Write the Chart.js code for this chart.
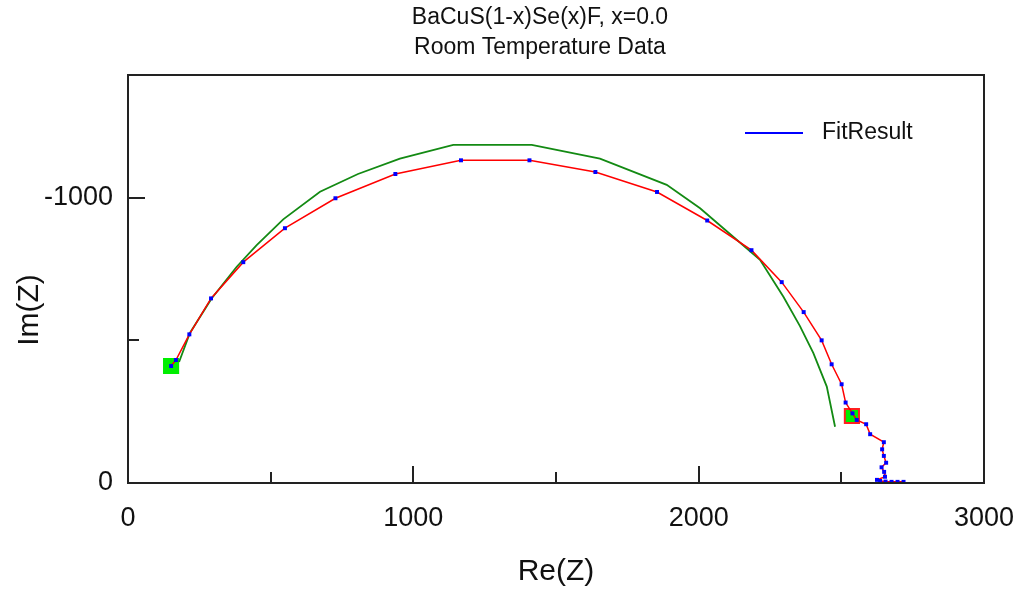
<!DOCTYPE html>
<html>
<head>
<meta charset="utf-8">
<script src="https://cdn.jsdelivr.net/npm/chart.js@4/dist/chart.umd.min.js"></script>
<style>
  html, body { margin: 0; padding: 0; background: #fff; }
  canvas { display: block; }
</style>
</head>
<body>
<canvas id="nyquist_chart" width="1021" height="597"></canvas>
<script>
// measured impedance (red line, blue dots)
const re_z = [151, 168, 215, 291, 404, 550, 727, 937, 1167, 1407, 1638, 1854, 2030,
  2185, 2291, 2368, 2431, 2466, 2501, 2515, 2539, 2554, 2587, 2601, 2649, 2643,
  2649, 2657, 2641, 2650, 2653, 2625, 2636, 2655, 2676, 2697, 2718];
const im_z = [-410, -431, -521, -647, -774, -893, -998, -1083, -1131, -1131, -1090,
  -1020, -920, -816, -704, -599, -500, -416, -346, -282, -244, -221, -206, -171,
  -143, -118, -95, -71, -55, -39, -22, -11, -7, -5, -4, -4, -4];

// fit result (green line)
const fit_re = [179, 217, 293, 381, 451, 544, 673, 806, 953, 1140, 1415, 1654, 1888,
  2005, 2121, 2215, 2297, 2355, 2402, 2449, 2478];
const fit_im = [-424, -526, -647, -758, -834, -924, -1021, -1083, -1137, -1185, -1185,
  -1137, -1045, -963, -863, -782, -653, -550, -455, -338, -197];

// fit range markers (green squares)
const mark_re = [151, 2537];
const mark_im = [-410, -235];

const x_ticks = [0, 500, 1000, 1500, 2000, 2500, 3000];
const y_ticks = [0, -500, -1000];

const to_points = (xs, ys) => xs.map((x, i) => ({ x: x, y: ys[i] }));

const FONT = "'Liberation Sans', Arial, sans-serif";

// frame, inward tick marks, titles and legend
const decor = {
  id: "decor",
  afterDatasetsDraw(chart) {
    const ctx = chart.ctx;
    const a = chart.chartArea;
    const xs = chart.scales.x;
    const ys = chart.scales.y;
    ctx.save();
    ctx.strokeStyle = "#222";
    ctx.lineWidth = 2;
    ctx.strokeRect(a.left, a.top, a.right - a.left, a.bottom - a.top);

    ctx.beginPath();
    x_ticks.forEach((v) => {
      const px = Math.round(xs.getPixelForValue(v));
      const len = v % 1000 === 0 ? 17 : 11;
      ctx.moveTo(px, a.bottom);
      ctx.lineTo(px, a.bottom - len);
    });
    y_ticks.forEach((v) => {
      const py = Math.round(ys.getPixelForValue(v));
      const len = v % 1000 === 0 ? 17 : 11;
      ctx.moveTo(a.left, py);
      ctx.lineTo(a.left + len, py);
    });
    ctx.stroke();

    // title
    ctx.fillStyle = "#111";
    ctx.textAlign = "center";
    ctx.textBaseline = "middle";
    ctx.font = "23px " + FONT;
    ctx.fillText("BaCuS(1-x)Se(x)F, x=0.0", 540, 18);
    ctx.fillText("Room Temperature Data", 540, 48);

    // y axis title
    ctx.save();
    ctx.translate(30, 310);
    ctx.rotate(-Math.PI / 2);
    ctx.font = "30px " + FONT;
    ctx.fillText("Im(Z)", 0, 0);
    ctx.restore();

    // legend
    ctx.strokeStyle = "#0000ff";
    ctx.lineWidth = 2;
    ctx.beginPath();
    ctx.moveTo(745, 133);
    ctx.lineTo(803, 133);
    ctx.stroke();
    ctx.textAlign = "left";
    ctx.font = "23px " + FONT;
    ctx.fillText("FitResult", 822, 133);
    ctx.restore();
  },
};

const nyquist_chart = new Chart(document.getElementById("nyquist_chart"), {
  type: "scatter",
  data: {
    datasets: [
      {
        label: "Data",
        data: to_points(re_z, im_z),
        showLine: true,
        borderColor: "#ff0000",
        borderWidth: 1.5,
        pointStyle: "rect",
        pointRadius: 2.8,
        pointBackgroundColor: "#0000ff",
        pointBorderWidth: 0,
        order: 1,
      },
      {
        label: "FitResult",
        data: to_points(fit_re, fit_im),
        showLine: true,
        borderColor: "#138a13",
        borderWidth: 1.8,
        pointRadius: 0,
        order: 2,
      },
      {
        label: "Range",
        data: to_points(mark_re, mark_im),
        showLine: false,
        pointStyle: "rect",
        pointRadius: 10,
        backgroundColor: "#00ee00",
        borderColor: ["#00ee00", "#ff2020"],
        borderWidth: 2,
        order: 3,
      },
    ],
  },
  options: {
    responsive: false,
    animation: false,
    layout: {
      padding: { top: 75, right: 37, left: 0, bottom: 0 },
    },
    plugins: {
      legend: { display: false },
      tooltip: { enabled: false },
    },
    scales: {
      x: {
        type: "linear",
        min: 0,
        max: 3000,
        afterFit: (s) => { s.height = 114; s.paddingLeft = 0; s.paddingRight = 0; },
        afterBuildTicks: (s) => { s.ticks = x_ticks.map((v) => ({ value: v })); },
        grid: { display: false },
        border: { display: false },
        ticks: {
          padding: 11,
          maxRotation: 0,
          color: "#111",
          font: { family: FONT, size: 27 },
          callback: (v) => (v % 1000 === 0 ? String(v) : ""),
        },
        title: {
          display: true,
          text: "Re(Z)",
          color: "#111",
          font: { family: FONT, size: 30 },
          padding: { top: 0, bottom: 7 },
        },
      },
      y: {
        type: "linear",
        min: -1430,
        max: 0,
        reverse: true,
        afterFit: (s) => { s.width = 128; s.paddingTop = 0; s.paddingBottom = 0; },
        afterBuildTicks: (s) => { s.ticks = y_ticks.map((v) => ({ value: v })); },
        grid: { display: false },
        border: { display: false },
        ticks: {
          padding: 7,
          color: "#111",
          font: { family: FONT, size: 27 },
          callback: (v) => (v % 1000 === 0 ? String(v) : ""),
        },
        title: { display: false },
      },
    },
  },
  plugins: [decor],
});
</script>
</body>
</html>
